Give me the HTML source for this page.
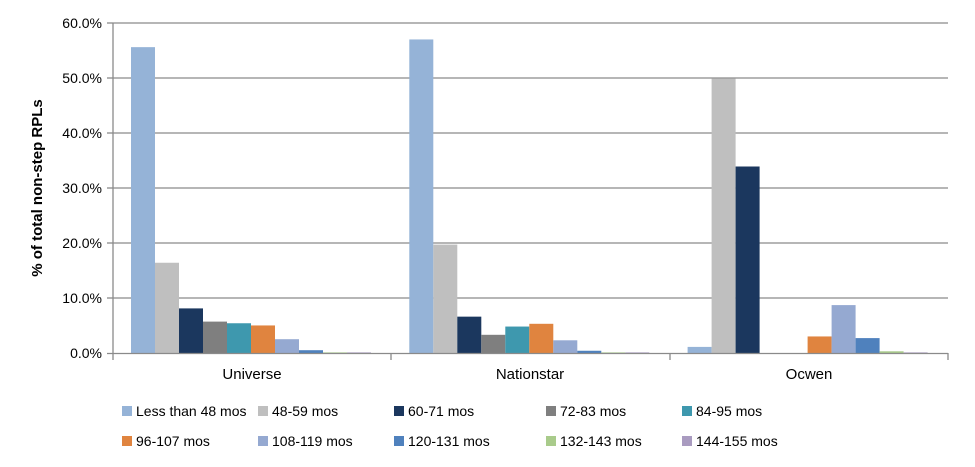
<!DOCTYPE html><html><head><style>body{margin:0;background:#fff}svg{display:block;font-family:"Liberation Sans",Arial,sans-serif}</style></head><body>
<svg width="975" height="467" viewBox="0 0 975 467" xmlns="http://www.w3.org/2000/svg">
<g stroke="#8a8a8a" stroke-width="1.3">
<line x1="113" y1="23" x2="948" y2="23"/><line x1="113" y1="78" x2="948" y2="78"/><line x1="113" y1="133" x2="948" y2="133"/><line x1="113" y1="188" x2="948" y2="188"/><line x1="113" y1="243" x2="948" y2="243"/><line x1="113" y1="298" x2="948" y2="298"/>
<line x1="113" y1="23" x2="113" y2="354"/>
<line x1="107" y1="23" x2="113" y2="23"/><line x1="107" y1="78" x2="113" y2="78"/><line x1="107" y1="133" x2="113" y2="133"/><line x1="107" y1="188" x2="113" y2="188"/><line x1="107" y1="243" x2="113" y2="243"/><line x1="107" y1="298" x2="113" y2="298"/>
</g>
<g font-size="14" fill="#000" text-anchor="end">
<text x="102" y="28">60.0%</text><text x="102" y="83">50.0%</text><text x="102" y="138">40.0%</text><text x="102" y="193">30.0%</text><text x="102" y="248">20.0%</text><text x="102" y="303">10.0%</text><text x="102" y="358">0.0%</text>
</g>
<text transform="translate(42,188) rotate(-90)" font-size="15" font-weight="bold" text-anchor="middle">% of total non-step RPLs</text>
<g>
<rect x="131" y="47.15" width="24" height="306.35" fill="#95B3D7"/>
<rect x="155" y="262.75" width="24" height="90.75" fill="#BFBFBF"/>
<rect x="179" y="308.4" width="24" height="45.1" fill="#1B375E"/>
<rect x="203" y="321.6" width="24" height="31.9" fill="#7F7F7F"/>
<rect x="227" y="323.25" width="24" height="30.25" fill="#3E98AE"/>
<rect x="251" y="325.45" width="24" height="28.05" fill="#E0843F"/>
<rect x="275" y="339.2" width="24" height="14.3" fill="#95A9D1"/>
<rect x="299" y="350.2" width="24" height="3.3" fill="#4F81BD"/>
<rect x="323" y="352.4" width="24" height="1.1" fill="#A9CB8B"/>
<rect x="347" y="352.4" width="24" height="1.1" fill="#A99BC0"/>

<rect x="409.3" y="39.45" width="24" height="314.05" fill="#95B3D7"/>
<rect x="433.3" y="244.6" width="24" height="108.9" fill="#BFBFBF"/>
<rect x="457.3" y="316.65" width="24" height="36.85" fill="#1B375E"/>
<rect x="481.3" y="334.8" width="24" height="18.7" fill="#7F7F7F"/>
<rect x="505.3" y="326.55" width="24" height="26.95" fill="#3E98AE"/>
<rect x="529.3" y="323.8" width="24" height="29.7" fill="#E0843F"/>
<rect x="553.3" y="340.3" width="24" height="13.2" fill="#95A9D1"/>
<rect x="577.3" y="350.75" width="24" height="2.75" fill="#4F81BD"/>
<rect x="601.3" y="352.4" width="24" height="1.1" fill="#A9CB8B"/>
<rect x="625.3" y="352.4" width="24" height="1.1" fill="#A99BC0"/>

<rect x="687.6" y="346.9" width="24" height="6.6" fill="#95B3D7"/>
<rect x="711.6" y="78.5" width="24" height="275" fill="#BFBFBF"/>
<rect x="735.6" y="166.5" width="24" height="187" fill="#1B375E"/>
<rect x="807.6" y="336.45" width="24" height="17.05" fill="#E0843F"/>
<rect x="831.6" y="305.1" width="24" height="48.4" fill="#95A9D1"/>
<rect x="855.6" y="338.1" width="24" height="15.4" fill="#4F81BD"/>
<rect x="879.6" y="351.3" width="24" height="2.2" fill="#A9CB8B"/>
<rect x="903.6" y="352.4" width="24" height="1.1" fill="#A99BC0"/>
</g>
<g stroke="#8a8a8a" stroke-width="1.3">
<line x1="107" y1="353.5" x2="948" y2="353.5"/>
<line x1="113" y1="353" x2="113" y2="360"/><line x1="391" y1="353" x2="391" y2="360"/><line x1="670" y1="353" x2="670" y2="360"/><line x1="948" y1="353" x2="948" y2="360"/>
</g>
<g font-size="15" text-anchor="middle"><text x="252" y="379">Universe</text><text x="530" y="379">Nationstar</text><text x="809" y="379">Ocwen</text></g>
<g font-size="14">
<rect x="122" y="406" width="10" height="10" fill="#95B3D7"/><text x="136" y="416">Less than 48 mos</text>
<rect x="258" y="406" width="10" height="10" fill="#BFBFBF"/><text x="272" y="416">48-59 mos</text>
<rect x="394" y="406" width="10" height="10" fill="#1B375E"/><text x="408" y="416">60-71 mos</text>
<rect x="546" y="406" width="10" height="10" fill="#7F7F7F"/><text x="560" y="416">72-83 mos</text>
<rect x="682" y="406" width="10" height="10" fill="#3E98AE"/><text x="696" y="416">84-95 mos</text>
<rect x="122" y="436" width="10" height="10" fill="#E0843F"/><text x="136" y="446">96-107 mos</text>
<rect x="258" y="436" width="10" height="10" fill="#95A9D1"/><text x="272" y="446">108-119 mos</text>
<rect x="394" y="436" width="10" height="10" fill="#4F81BD"/><text x="408" y="446">120-131 mos</text>
<rect x="546" y="436" width="10" height="10" fill="#A9CB8B"/><text x="560" y="446">132-143 mos</text>
<rect x="682" y="436" width="10" height="10" fill="#A99BC0"/><text x="696" y="446">144-155 mos</text>
</g>
</svg></body></html>
